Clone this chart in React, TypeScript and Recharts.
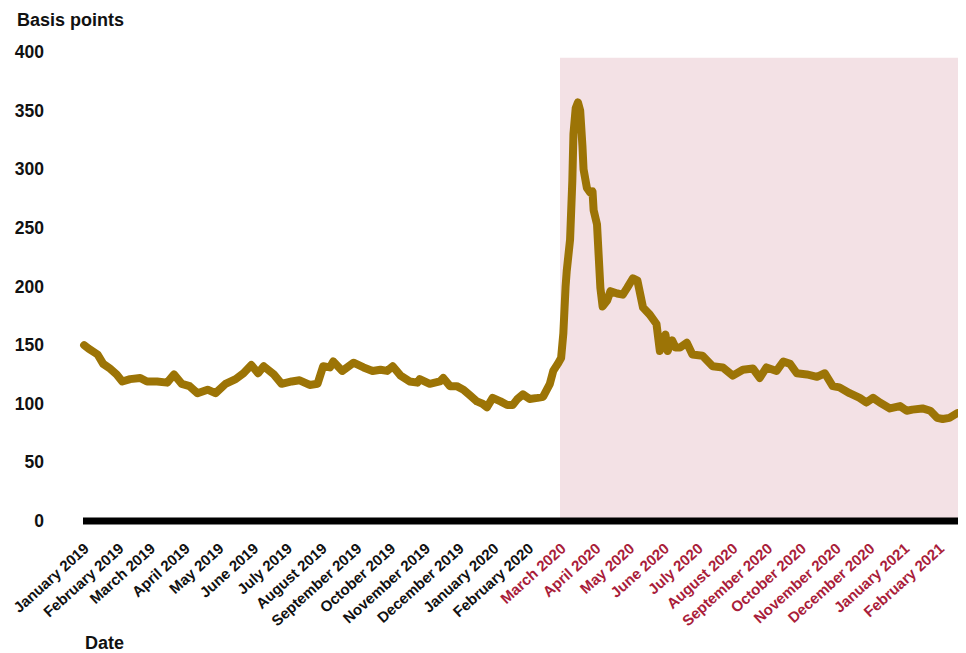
import { LineChart, Line, XAxis, YAxis, ReferenceArea } from 'recharts';

// days since 1 January 2019
const dayOffsets = [
  1, 5, 13, 18, 24, 30, 35, 42, 51, 57, 66, 75, 81, 88, 95, 102, 111, 118, 127, 136,
  143, 150, 156, 161, 170, 177, 186, 193, 202, 209, 214, 220, 223, 231, 241, 250, 258, 265, 271, 276,
  283, 291, 298, 300, 309, 318, 321, 327, 333, 339, 345, 351, 356, 360, 365, 372, 378, 383, 387, 392,
  398, 405, 410, 416, 419, 423, 426, 428, 430, 431, 434, 436, 437, 439, 441, 443, 445, 446, 449, 452,
  454, 455, 458, 461, 463, 467, 470, 476, 481, 485, 490, 494, 499, 505, 511, 514, 519, 521, 525, 528,
  532, 538, 543, 552, 561, 570, 579, 588, 597, 603, 609, 618, 624, 630, 636, 645, 654, 661, 668, 674,
  683, 692, 698, 704, 710, 719, 728, 734, 739, 748, 755, 761, 766, 772, 779,
];

// spread, basis points
const spreadBp = [
  150, 147, 142, 134, 130, 125, 119, 121, 122, 119, 119, 118, 125, 117, 115, 109, 112, 109, 117, 121,
  126, 133, 126, 132, 125, 117, 119, 120, 116, 117, 132, 131, 136, 128, 135, 131, 128, 129, 128, 132,
  124, 119, 118, 121, 117, 119, 122, 115, 115, 112, 107, 102, 100, 97, 105, 102, 99, 99, 104, 108,
  104, 105, 106, 117, 128, 134, 139, 160, 200, 213, 240, 290, 330, 352, 357, 350, 320, 300, 284, 280,
  281, 265, 253, 199, 183, 188, 196, 194, 193, 199, 207, 205, 182, 176, 168, 145, 159, 145, 154, 148,
  148, 152, 142, 141, 132, 131, 124, 129, 130, 122, 131, 128, 136, 134, 126, 125, 123, 126, 115, 114,
  109, 105, 101, 105, 101, 96, 98, 94, 95, 96, 94, 88, 87, 88, 92,
];

const monthLabels = [
  'January 2019', 'February 2019', 'March 2019', 'April 2019', 'May 2019', 'June 2019',
  'July 2019', 'August 2019', 'September  2019', 'October 2019', 'November 2019', 'December 2019',
  'January 2020', 'February 2020', 'March 2020', 'April 2020', 'May 2020', 'June 2020',
  'July 2020', 'August 2020', 'September 2020', 'October 2020', 'November 2020', 'December 2020',
  'January 2021', 'February 2021',
];

const yTicks = [0, 50, 100, 150, 200, 250, 300, 350, 400];

const crisisStartLabel = 'March 2020';

const FONT = '"Liberation Sans", Arial, sans-serif';
const RED = '#A91D3A';

const dayOf = (y: number, m: number) => (Date.UTC(y, m, 1) - Date.UTC(2019, 0, 1)) / 86400000;

const monthTicks = monthLabels.map((_, i) => dayOf(2019 + Math.floor(i / 12), i % 12));
const crisisStart = monthTicks[monthLabels.indexOf(crisisStartLabel)];
const lastDay = 785;

const chartData = dayOffsets.map((d, i) => ({ day: d, spread: spreadBp[i] }));

function MonthTick(props: any) {
  const { x, payload } = props;
  const idx = monthTicks.indexOf(payload.value);
  const red = payload.value >= crisisStart;
  return (
    <g transform={`translate(${x + 7},${542})`}>
      <text
        textAnchor="end"
        transform="rotate(-42)"
        fontFamily={FONT}
        fontWeight="bold"
        fontSize={15}
        fill={red ? RED : '#111'}
      >
        {monthLabels[idx]}
      </text>
    </g>
  );
}

function ValueTick(props: any) {
  const { y, payload } = props;
  return (
    <text x={36} y={y} dy={6} textAnchor="end" fontFamily={FONT} fontWeight="bold" fontSize={17.5} fill="#111">
      {payload.value}
    </text>
  );
}

export default function App() {
  return (
    <div style={{ position: 'relative', width: 958, height: 645, background: '#fff' }}>
      <div
        style={{
          position: 'absolute', left: 9, top: 3, fontFamily: FONT, fontWeight: 'bold',
          fontSize: 18, lineHeight: '18px', color: '#111',
        }}
      >
        Basis points
      </div>
      <div
        style={{
          position: 'absolute', left: 77, top: 626, fontFamily: FONT, fontWeight: 'bold',
          fontSize: 18, lineHeight: '18px', color: '#111',
        }}
      >
        Date
      </div>
      <LineChart width={958} height={645} data={chartData} margin={{ top: 44, right: 2, left: 0, bottom: 0 }}>
        <ReferenceArea
          x1={crisisStart}
          x2={lastDay}
          y1={0}
          y2={395}
          fill="#F3E1E5"
          fillOpacity={1}
          stroke="none"
          ifOverflow="visible"
        />
        <XAxis
          type="number"
          dataKey="day"
          domain={[0, lastDay]}
          ticks={monthTicks}
          interval={0}
          height={132}
          tickLine={false}
          axisLine={{ stroke: '#000', strokeWidth: 7 }}
          tick={<MonthTick />}
        />
        <YAxis
          type="number"
          domain={[0, 400]}
          ticks={yTicks}
          width={75}
          tickLine={false}
          axisLine={false}
          tick={<ValueTick />}
        />
        <Line
          type="linear"
          dataKey="spread"
          stroke="#9C7406"
          strokeWidth={8}
          strokeLinejoin="round"
          strokeLinecap="round"
          dot={false}
          isAnimationActive={false}
        />
      </LineChart>
    </div>
  );
}
